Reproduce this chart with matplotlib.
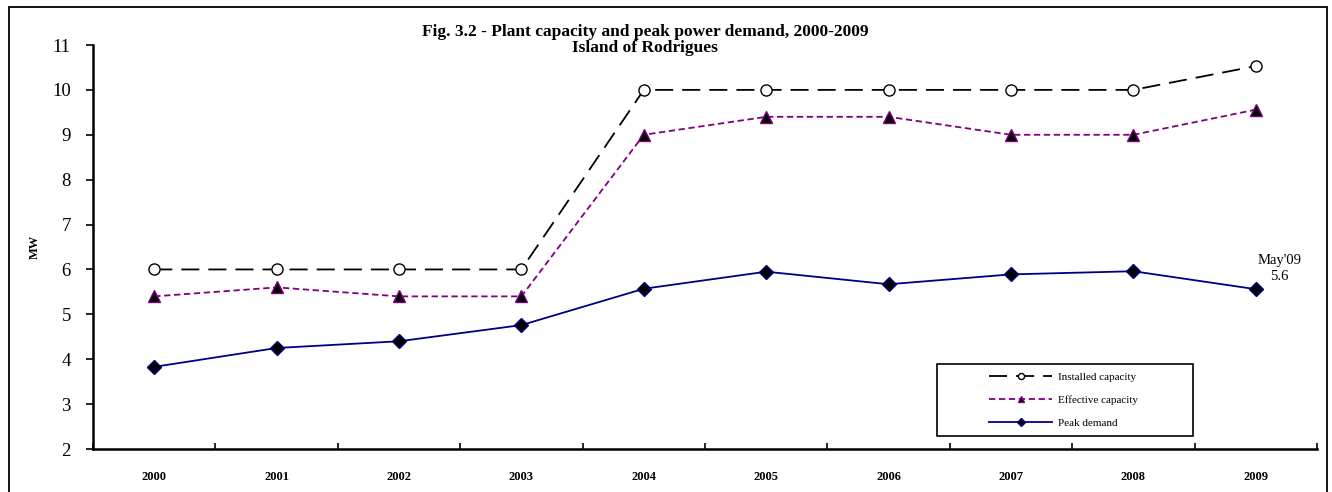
import numpy as np
import matplotlib
matplotlib.use("Agg")
import matplotlib.pyplot as plt
from matplotlib.patches import Rectangle

plt.rcParams["font.family"] = ["Liberation Serif", "DejaVu Serif"]

years = ["2000", "2001", "2002", "2003", "2004", "2005", "2006", "2007", "2008", "2009"]
installed = [6, 6, 6, 6, 10, 10, 10, 10, 10, 10.53]
effective = [5.4, 5.6, 5.4, 5.4, 9.0, 9.4, 9.4, 9.0, 9.0, 9.56]
peak = [3.83, 4.25, 4.4, 4.76, 5.57, 5.95, 5.67, 5.89, 5.96, 5.56]

fig = plt.figure(figsize=(13.32, 4.92), dpi=100)
W, H = 1332, 492
ax = fig.add_axes([93 / W, 1 - 449 / H, (1317 - 93) / W, (449 - 45) / H])
aw, ah = 1317 - 93, 449 - 45

x = np.arange(len(years))
ax.plot(x, installed, color="black", lw=1.3, dashes=(10, 5), marker="o", ms=8,
        mfc="white", mec="black", mew=1.0, label="Installed capacity")
ax.plot(x, effective, color="#800080", lw=1.3, dashes=(3.5, 2), marker="^", ms=8.5,
        mfc="black", mec="#800080", mew=1.0, label="Effective capacity")
ax.plot(x, peak, color="#000080", lw=1.3, marker="D", ms=7.5,
        mfc="black", mec="#000080", mew=1.0, label="Peak demand")

ax.set_xlim(-0.5, len(years) - 0.5)
ax.set_ylim(2, 11)
ax.set_yticks(range(2, 12))
ax.tick_params(axis="y", labelsize=13.5, direction="out", length=5, width=1.2, pad=11)
ax.set_xticks(x)
ax.set_xticklabels(years, fontsize=9, fontweight="bold")
ax.tick_params(axis="x", length=0, pad=16)
ax.set_xticks(np.arange(-0.5, len(years)), minor=True)
ax.tick_params(axis="x", which="minor", direction="in", length=4, width=1.2)
for s in ["top", "right"]:
    ax.spines[s].set_visible(False)
for s in ["left", "bottom"]:
    ax.spines[s].set_linewidth(1.8)

ax.set_ylabel("MW", fontsize=9, fontweight="bold", labelpad=8)

ax.annotate("May'09\n5.6", xy=(x[-1], peak[-1]), xytext=(17, 15),
            textcoords="offset points", ha="center", va="center", fontsize=10.5,
            linespacing=1.3)

# two-line title
fig.text(645 / W, 1 - 36.5 / H, "Fig. 3.2 - Plant capacity and peak power demand, 2000-2009",
         ha="center", va="baseline", fontsize=12.5, fontweight="bold")
fig.text(645 / W, 1 - 52.5 / H, "Island of Rodrigues",
         ha="center", va="baseline", fontsize=12.5, fontweight="bold")

# legend box drawn separately, entries placed inside it
ax.add_patch(Rectangle(((937 - 93) / aw, (449 - 436) / ah), (1193 - 937) / aw, (436 - 364) / ah,
                       transform=ax.transAxes, fill=True, fc="white", ec="black", lw=1.2,
                       zorder=4))
leg = ax.legend(loc="center left", bbox_to_anchor=((989 - 93) / aw, (449 - 400) / ah),
                fontsize=8, frameon=False, handlelength=5.7, borderpad=0, labelspacing=1.2,
                handletextpad=0.55, borderaxespad=0, markerscale=0.55)
leg.set_zorder(5)

fig.patches.append(Rectangle((9 / W, -0.05), (1327 - 9) / W, 1 - 7 / H + 0.05,
                             transform=fig.transFigure, fill=False, ec="black", lw=1.3))

fig.savefig("out.png", dpi=100)
